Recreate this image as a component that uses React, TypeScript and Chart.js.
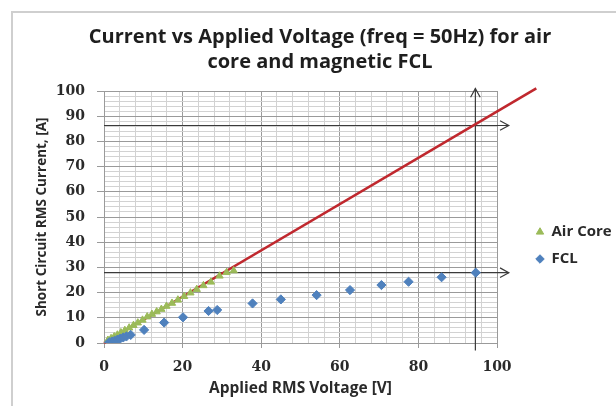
import { useEffect, useRef } from 'react';
import { Chart, registerables } from 'chart.js';

Chart.register(...registerables);

const titleLines = ['Current vs Applied Voltage (freq = 50Hz) for air', 'core and magnetic FCL'];
const xAxisTitle = 'Applied RMS Voltage [V]';
const yAxisTitle = 'Short Circuit RMS Current, [A]';
const airCoreLabel = 'Air Core';
const fclLabel = 'FCL';

const airCoreV = [1.0, 1.8, 2.6, 3.4, 4.3, 5.3, 6.4, 7.5, 8.6, 9.8, 11.0, 12.2, 13.4, 14.6, 15.9, 17.3, 18.8, 20.4, 22.0, 23.6, 25.3, 27.2, 29.4, 31.2, 33.0];
const airCoreI = [1.1, 1.8, 2.5, 3.2, 4.1, 5.0, 6.0, 7.0, 8.0, 9.1, 10.4, 11.4, 12.4, 13.4, 14.6, 15.8, 17.1, 18.5, 19.9, 21.3, 22.8, 24.2, 26.6, 28.0, 28.7];

const fclV = [1.3, 2.0, 2.7, 3.4, 4.1, 4.9, 5.7, 6.8, 10.2, 15.3, 20.1, 26.6, 28.8, 37.8, 45.0, 54.1, 62.6, 70.6, 77.5, 85.9, 94.6];
const fclI = [0.3, 0.6, 0.9, 1.3, 1.7, 2.2, 2.6, 3.2, 5.2, 8.1, 10.2, 12.7, 13.1, 15.7, 17.3, 19.0, 21.0, 23.0, 24.3, 26.1, 27.9];

const refLineV = [0, 110];
const refLineI = [0, 101];

const markerVertV = [94.5, 94.5];
const markerVertI = [-3, 101];
const markerHighV = [0, 103];
const markerHighI = [86.3, 86.3];
const markerLowV = [0, 103];
const markerLowI = [27.9, 27.9];

const xMin = 0, xMax = 100, xStep = 4, xLabelEvery = 20;
const yMin = 0, yMax = 100, yStep = 2, yLabelEvery = 10;

const pts = (xs: number[], ys: number[]) => xs.map((x, i) => ({ x, y: ys[i] }));

const framePlugin = {
  id: 'frame',
  beforeDraw(chart: any) {
    const { ctx, width, height } = chart;
    ctx.save();
    ctx.fillStyle = '#ffffff';
    ctx.fillRect(0, 0, width, height);
    ctx.strokeStyle = '#cfcfcf';
    ctx.lineWidth = 2;
    ctx.beginPath();
    ctx.moveTo(12, height);
    ctx.lineTo(12, 12);
    ctx.lineTo(width, 12);
    ctx.stroke();
    ctx.restore();
  },
};

const arrowPlugin = {
  id: 'arrowHeads',
  afterDatasetsDraw(chart: any) {
    const ctx = chart.ctx;
    chart.data.datasets.forEach((ds: any, i: number) => {
      if (!ds.arrowHead) return;
      const meta = chart.getDatasetMeta(i);
      const els = meta.data;
      if (!els || els.length < 2) return;
      const a = els[els.length - 2];
      const b = els[els.length - 1];
      const ang = Math.atan2(b.y - a.y, b.x - a.x);
      const L = 10;
      const spread = 0.5;
      ctx.save();
      ctx.strokeStyle = ds.borderColor;
      ctx.lineWidth = 1.2;
      ctx.beginPath();
      ctx.moveTo(b.x - L * Math.cos(ang - spread), b.y - L * Math.sin(ang - spread));
      ctx.lineTo(b.x, b.y);
      ctx.lineTo(b.x - L * Math.cos(ang + spread), b.y - L * Math.sin(ang + spread));
      ctx.stroke();
      ctx.restore();
    });
  },
};

const isMultiple = (v: number, m: number) => Math.abs(v / m - Math.round(v / m)) < 1e-6;

export default function App() {
  const ref = useRef<HTMLCanvasElement | null>(null);

  useEffect(() => {
    if (!ref.current) return;
    const arrowColor = '#3a3a3a';
    const chart = new Chart(ref.current, {
      type: 'scatter',
      data: {
        datasets: [
          {
            label: airCoreLabel,
            data: pts(airCoreV, airCoreI),
            pointStyle: 'triangle',
            pointRadius: 4.2,
            backgroundColor: '#9bbb59',
            borderColor: '#9bbb59',
            borderWidth: 1,
            order: 2,
          },
          {
            label: fclLabel,
            data: pts(fclV, fclI),
            pointStyle: 'rectRot',
            pointRadius: 4.6,
            backgroundColor: '#4f81bd',
            borderColor: '#4f81bd',
            borderWidth: 1,
            order: 1,
          },
          {
            label: 'ref',
            type: 'line',
            data: pts(refLineV, refLineI),
            showLine: true,
            borderColor: '#c0282e',
            borderWidth: 2.6,
            pointRadius: 0,
            clip: false,
            order: 3,
          } as any,
          {
            label: 'vmark',
            type: 'line',
            data: pts(markerVertV, markerVertI),
            showLine: true,
            borderColor: arrowColor,
            borderWidth: 1.2,
            pointRadius: 0,
            clip: false,
            arrowHead: true,
            order: 4,
          } as any,
          {
            label: 'hmark1',
            type: 'line',
            data: pts(markerHighV, markerHighI),
            showLine: true,
            borderColor: arrowColor,
            borderWidth: 1.2,
            pointRadius: 0,
            clip: false,
            arrowHead: true,
            order: 4,
          } as any,
          {
            label: 'hmark2',
            type: 'line',
            data: pts(markerLowV, markerLowI),
            showLine: true,
            borderColor: arrowColor,
            borderWidth: 1.2,
            pointRadius: 0,
            clip: false,
            arrowHead: true,
            order: 4,
          } as any,
        ],
      },
      options: {
        animation: false,
        responsive: false,
        maintainAspectRatio: false,
        layout: { padding: { left: 24, top: 12, right: 0, bottom: 0 } },
        plugins: {
          tooltip: { enabled: false },
          title: {
            display: true,
            text: titleLines,
            color: '#1e1e1e',
            font: { family: 'Open Sans', size: 20, weight: 'bold', lineHeight: 1.25 },
            padding: { top: 12.5, bottom: 16.5 },
          },
          legend: {
            display: true,
            position: 'right',
            align: 'center',
            fullSize: true,
            maxWidth: 92,
            title: { display: true, text: ' ', font: { size: 10, lineHeight: 1.2 }, padding: { top: 61, bottom: 0 } },
            labels: {
              usePointStyle: true,
              boxWidth: 8,
              boxHeight: 6,
              padding: 12,
              color: '#2a2a2a',
              font: { family: 'Open Sans', size: 15, weight: 'bold' },
              filter: (item: any) => item.text === airCoreLabel || item.text === fclLabel,
              sort: (a: any, b: any) => a.datasetIndex - b.datasetIndex,
            },
          },
        },
        scales: {
          x: {
            type: 'linear',
            position: 'bottom',
            min: xMin,
            max: xMax,
            afterFit: (s: any) => { s.height = 63; },
            ticks: {
              stepSize: xStep,
              autoSkip: false,
              maxRotation: 0,
              padding: 11,
              color: '#2a2a2a',
              font: { family: 'DejaVu Serif', size: 14, weight: 'bold' },
              callback: (v: any) => (isMultiple(Number(v), xLabelEvery) ? String(v) : ''),
            },
            grid: {
              color: (c: any) => (isMultiple(c.tick.value, xLabelEvery) ? '#9a9a9a' : '#d2d2d2'),
              tickColor: (c: any) => (isMultiple(c.tick.value, xLabelEvery) ? '#9a9a9a' : 'rgba(0,0,0,0)'),
              tickLength: 5,
              lineWidth: 1,
            },
            border: { color: '#9a9a9a' },
            title: {
              display: true,
              text: xAxisTitle,
              color: '#2a2a2a',
              font: { family: 'Open Sans', size: 15.5, weight: 'bold', lineHeight: 1.2 },
              padding: { top: 0, bottom: 8 },
            },
          },
          y: {
            type: 'linear',
            position: 'left',
            min: yMin,
            max: yMax,
            afterFit: (s: any) => { s.width = 80; },
            ticks: {
              stepSize: yStep,
              autoSkip: false,
              maxTicksLimit: 100,
              padding: 12,
              color: '#2a2a2a',
              font: { family: 'DejaVu Serif', size: 14, weight: 'bold' },
              callback: (v: any) => (isMultiple(Number(v), yLabelEvery) ? String(v) : ''),
            },
            grid: {
              color: (c: any) => (isMultiple(c.tick.value, yLabelEvery) ? '#9a9a9a' : '#d2d2d2'),
              tickColor: (c: any) => (isMultiple(c.tick.value, yLabelEvery) ? '#9a9a9a' : 'rgba(0,0,0,0)'),
              tickLength: 7,
              lineWidth: 1,
            },
            border: { color: '#9a9a9a' },
            title: {
              display: true,
              text: yAxisTitle,
              color: '#2a2a2a',
              font: { family: 'Open Sans', size: 13.5, weight: 'bold', lineHeight: 1.2 },
              padding: { top: 10, bottom: 0 },
            },
          },
          pad: {
            type: 'linear',
            axis: 'y',
            position: 'right',
            display: true,
            min: 0,
            max: 1,
            afterFit: (s: any) => { s.width = 27; },
            ticks: { display: false },
            grid: { display: false },
            border: { display: false },
          } as any,
        },
      } as any,
      plugins: [framePlugin, arrowPlugin],
    });
    return () => chart.destroy();
  }, []);

  return (
    <div style={{ position: 'fixed', left: 0, top: 0, width: 616, height: 406, background: '#fff' }}>
      <canvas ref={ref} width={616} height={406} style={{ display: 'block', width: 616, height: 406 }} />
    </div>
  );
}
